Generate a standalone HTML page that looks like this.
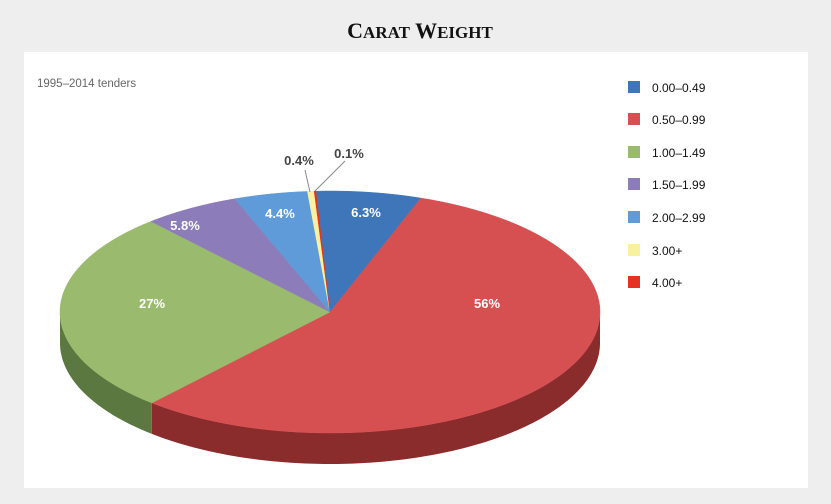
<!DOCTYPE html>
<html><head><meta charset="utf-8"><style>
html,body{margin:0;padding:0;background:#efeeee;}
body{width:831px;height:499px;position:relative;overflow:hidden;font-family:"Liberation Sans",sans-serif;}
</style></head><body>
<svg id="s" width="831" height="499" xmlns="http://www.w3.org/2000/svg">
<rect x="24" y="52" width="784" height="436" fill="#ffffff"/>
<text x="420" y="38" text-anchor="middle" font-family="Liberation Serif,serif" font-weight="bold" font-size="22" fill="#111">C<tspan font-size="17">ARAT</tspan> W<tspan font-size="17">EIGHT</tspan></text>
<text x="37" y="87" font-size="11.5" fill="#666">1995–2014 tenders</text>
<g id="pie"></g>
<g font-size="12" fill="#111">
<rect x="628" y="81" width="12" height="12" fill="#3f76b9"/><text x="652" y="92">0.00–0.49</text>
<rect x="628" y="113" width="12" height="12" fill="#d65052"/><text x="652" y="124">0.50–0.99</text>
<rect x="628" y="146" width="12" height="12" fill="#9aba6d"/><text x="652" y="157">1.00–1.49</text>
<rect x="628" y="178" width="12" height="12" fill="#8c7dba"/><text x="652" y="189">1.50–1.99</text>
<rect x="628" y="211" width="12" height="12" fill="#5f9bd8"/><text x="652" y="222">2.00–2.99</text>
<rect x="628" y="244" width="12" height="12" fill="#f8f2a0"/><text x="652" y="255">3.00+</text>
<rect x="628" y="276" width="12" height="12" fill="#e53222"/><text x="652" y="287">4.00+</text>
</g>
</svg>
<script>
var cx=330,cy=312,rx=270,ry=121,d=31;
var data=[[6.3,"#3f76b9",null],[56,"#d65052","#8a2b2c"],[27,"#9aba6d","#5b7840"],[5.8,"#8c7dba",null],[4.4,"#5f9bd8",null],[0.4,"#f8f2a0",null],[0.1,"#e53222",null]];
function P(a,dy){var r=a*Math.PI/180;return [cx+rx*Math.sin(r),cy-ry*Math.cos(r)+(dy||0)];}
var g=document.getElementById('pie'),h='',a=-3,sl=[];
data.forEach(function(s){var b=a+s[0]*3.6;sl.push([a,b,s]);a=b;});
sl.forEach(function(t){var a0=Math.max(t[0],90),a1=Math.min(t[1],270);
 if(t[2][2]&&a1>a0){var p='M';for(var x=a0;x<=a1;x+=1)p+=P(x).join(',')+' L';p+=P(a1).join(',')+' ';
  for(var x=a1;x>=a0;x-=1)p+='L'+P(x,d).join(',')+' ';p+='L'+P(a0,d).join(',')+'Z';
  h+='<path d="'+p+'" fill="'+t[2][2]+'"/>';}});
sl.forEach(function(t){var p='M'+cx+','+cy;for(var x=t[0];x<t[1];x+=0.5)p+=' L'+P(x).join(',');p+=' L'+P(t[1]).join(',')+'Z';
 h+='<path d="'+p+'" fill="'+t[2][1]+'" stroke="'+t[2][1]+'" stroke-width="0.5"/>';});
h+='<g font-size="13" font-weight="bold" fill="#fff" text-anchor="middle"><text x="366" y="217">6.3%</text><text x="487" y="308">56%</text><text x="152" y="308">27%</text><text x="185" y="230">5.8%</text><text x="280" y="218">4.4%</text></g>';
h+='<line x1="305" y1="170" x2="310" y2="192" stroke="#888"/><line x1="345" y1="161" x2="315" y2="191" stroke="#888"/>';
h+='<g font-size="13" font-weight="bold" fill="#444" text-anchor="middle"><text x="299" y="165">0.4%</text><text x="349" y="158">0.1%</text></g>';
g.innerHTML=h;
</script>
</body></html>
